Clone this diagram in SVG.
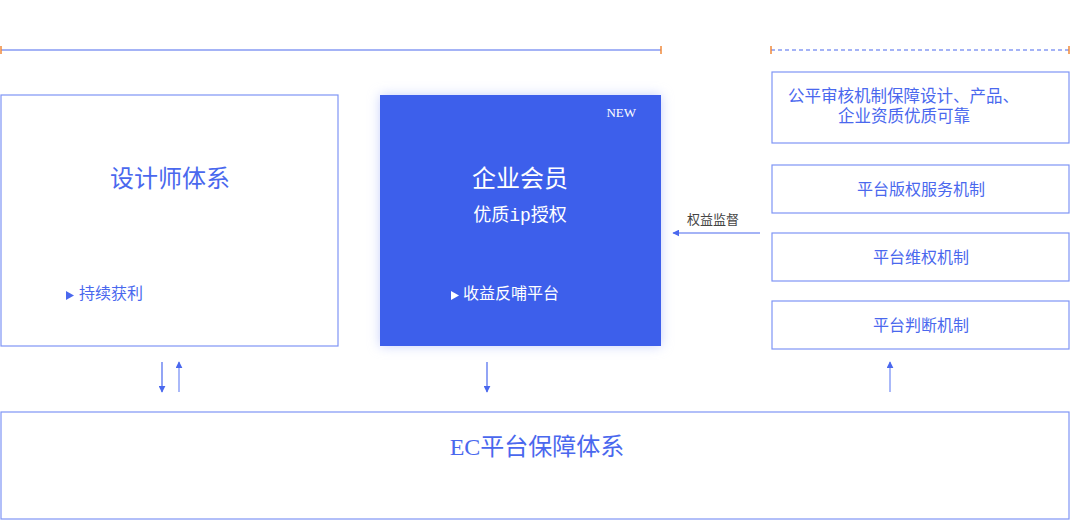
<svg xmlns="http://www.w3.org/2000/svg" width="1071" height="521" viewBox="0 0 1071 521">
<style>
.box{fill:#fff;stroke:#7f95f5;stroke-width:1.2}
.t{font-family:"Liberation Serif","Noto Sans CJK SC",serif;fill:#4a68ee}
.w{font-family:"Liberation Serif","Noto Sans CJK SC",serif;fill:#fff}
.conn{stroke:#4a68ee;stroke-width:1.2;fill:none}
.conn2{stroke:#8ea2f7;stroke-width:1.5;fill:none}
.tick{stroke:#f08a3a;stroke-width:1.5}
</style>
<defs>
<marker id="ah" viewBox="0 0 10 10" refX="9" refY="5" markerWidth="7" markerHeight="7" markerUnits="userSpaceOnUse" orient="auto"><path d="M0,0 L10,5 L0,10 Z" fill="#4a68ee"/></marker>
<filter id="glow" x="-20%" y="-20%" width="140%" height="140%"><feGaussianBlur in="SourceAlpha" stdDeviation="6"/><feFlood flood-color="#c7d0fb"/><feComposite operator="in" in2="SourceAlpha"/><feGaussianBlur stdDeviation="6"/><feMerge><feMergeNode/><feMergeNode in="SourceGraphic"/></feMerge></filter>
</defs>
<g id="rulers">
<line x1="1" y1="50" x2="661" y2="50" stroke="#4a68ee" stroke-width="1.2"/>
<line class="tick" x1="1" y1="46" x2="1" y2="54"/>
<line class="tick" x1="661" y1="46" x2="661" y2="54"/>
<line x1="771" y1="50" x2="1069" y2="50" stroke="#4a68ee" stroke-width="1.2" stroke-dasharray="4,3"/>
<line class="tick" x1="771" y1="46" x2="771" y2="54"/>
<line class="tick" x1="1069" y1="46" x2="1069" y2="54"/>
</g>
<g id="designer">
<rect class="box" x="1" y="95" width="337" height="251"/>
<text class="t" x="170" y="187" font-size="24" text-anchor="middle">设计师体系</text>
<path d="M66,291 L74,295.5 L66,300 Z" fill="#4a68ee"/>
<text class="t" x="79" y="299" font-size="16">持续获利</text>
</g>
<g id="enterprise">
<rect x="380" y="95" width="281" height="251" fill="#3d5eeb" filter="url(#glow)"/>
<text class="w" x="636" y="117" font-size="13" text-anchor="end">NEW</text>
<text class="w" x="520" y="187" font-size="24" text-anchor="middle">企业会员</text>
<text class="w" x="520" y="221" font-size="18" text-anchor="middle">优质<tspan font-family="Liberation Mono,monospace">ip</tspan>授权</text>
<path d="M451,291 L459,295.5 L451,300 Z" fill="#fff"/>
<text class="w" x="463" y="299" font-size="16">收益反哺平台</text>
</g>
<g id="review">
<rect class="box" x="772" y="72" width="297" height="71"/>
<text class="t" x="788" y="102" font-size="16.5">公平审核机制保障设计、产品、</text>
<text class="t" x="838" y="122" font-size="16.5">企业资质优质可靠</text>
</g>
<g id="copyright">
<rect class="box" x="772" y="165" width="297" height="48"/>
<text class="t" x="921" y="195" font-size="16" text-anchor="middle">平台版权服务机制</text>
</g>
<g id="rights">
<rect class="box" x="772" y="233" width="297" height="48"/>
<text class="t" x="921" y="263" font-size="16" text-anchor="middle">平台维权机制</text>
</g>
<g id="judge">
<rect class="box" x="772" y="301" width="297" height="48"/>
<text class="t" x="921" y="331" font-size="16" text-anchor="middle">平台判断机制</text>
</g>
<g id="ec">
<rect class="box" x="1" y="412" width="1068" height="107"/>
<text class="t" x="537" y="455" font-size="24" text-anchor="middle">EC平台保障体系</text>
</g>
<g id="connectors">
<line class="conn" x1="760" y1="233" x2="673" y2="233" marker-end="url(#ah)"/>
<text x="713" y="224" font-size="13" text-anchor="middle" font-family="Liberation Serif,Noto Sans CJK SC,serif" fill="#444">权益监督</text>
<line class="conn" x1="162" y1="362" x2="162" y2="392" marker-end="url(#ah)"/>
<line class="conn2" x1="179" y1="392" x2="179" y2="362" marker-end="url(#ah)"/>
<line class="conn" x1="487" y1="362" x2="487" y2="392" marker-end="url(#ah)"/>
<line class="conn2" x1="890" y1="392" x2="890" y2="362" marker-end="url(#ah)"/>
</g>
</svg>
